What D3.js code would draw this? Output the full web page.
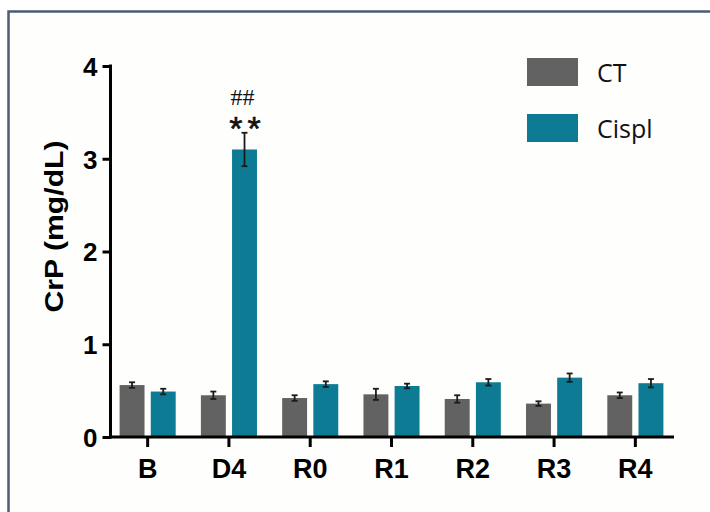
<!DOCTYPE html>
<html>
<head>
<meta charset="utf-8">
<script src="https://cdn.jsdelivr.net/npm/d3@7"></script>
<style>
  html, body { margin: 0; padding: 0; background: #ffffff; }
  svg { display: block; }
</style>
</head>
<body>
<svg id="chart" width="710" height="512"></svg>
<script>
// ---- data ----
const categories = ["B", "D4", "R0", "R1", "R2", "R3", "R4"];
const seriesNames = ["CT", "Cispl"];
const ctValues    = [0.56, 0.45, 0.42, 0.46, 0.41, 0.36, 0.45];
const ctErrors    = [0.03, 0.04, 0.03, 0.06, 0.04, 0.025, 0.03];
const cisValues   = [0.49, 3.10, 0.57, 0.55, 0.59, 0.64, 0.58];
const cisErrors   = [0.03, 0.18, 0.03, 0.025, 0.035, 0.045, 0.045];
const yTicks = [0, 1, 2, 3, 4];
const yLabel = "CrP (mg/dL)";
const annotations = [{cat: "D4", series: "Cispl", lines: ["##", "**"]}];

// ---- style ----
const colors = {CT: "#626262", Cispl: "#0d7b94"};
const W = 710, H = 512;
const plot = {left: 110.5, top: 66, bottom: 437, right: 674};
const sansBold = "'Liberation Sans', Arial, sans-serif";

const svg = d3.select("#chart");

// frame
svg.append("rect").attr("x", 0).attr("y", 0).attr("width", W).attr("height", H).attr("fill", "#ffffff");
svg.append("rect")
  .attr("x", 8.5).attr("y", 11.5).attr("width", 740).attr("height", 540)
  .attr("fill", "#fefefd").attr("stroke", "#4d5b76").attr("stroke-width", 2.5);

const y = d3.scaleLinear().domain([0, 4]).range([plot.bottom, plot.top]);
const x0 = d3.scaleBand().domain(categories).range([107, 676]).paddingInner(0.31).paddingOuter(0.155);
const x1 = d3.scaleBand().domain(seriesNames).range([0, x0.bandwidth()]).paddingInner(0.2);

const rows = [];
categories.forEach((c, i) => {
  rows.push({cat: c, series: "CT", v: ctValues[i], e: ctErrors[i]});
  rows.push({cat: c, series: "Cispl", v: cisValues[i], e: cisErrors[i]});
});

// bars
svg.append("g").selectAll("rect").data(rows).join("rect")
  .attr("x", d => x0(d.cat) + x1(d.series))
  .attr("y", d => y(d.v))
  .attr("width", x1.bandwidth())
  .attr("height", d => y(0) - y(d.v))
  .attr("fill", d => colors[d.series]);

// error bars
const eg = svg.append("g").attr("stroke", "#1b1b1b").attr("stroke-width", 1.8).attr("fill", "none");
rows.forEach(d => {
  const cx = x0(d.cat) + x1(d.series) + x1.bandwidth() / 2;
  eg.append("line").attr("x1", cx).attr("x2", cx).attr("y1", y(d.v + d.e)).attr("y2", y(d.v - d.e));
  eg.append("line").attr("x1", cx - 3).attr("x2", cx + 3).attr("y1", y(d.v + d.e)).attr("y2", y(d.v + d.e));
  eg.append("line").attr("x1", cx - 3).attr("x2", cx + 3).attr("y1", y(d.v - d.e)).attr("y2", y(d.v - d.e));
});

// annotations
annotations.forEach(a => {
  const i = categories.indexOf(a.cat);
  const v = a.series === "CT" ? ctValues[i] + ctErrors[i] : cisValues[i] + cisErrors[i];
  const cx = x0(a.cat) + x1(a.series) + x1.bandwidth() / 2;
  const top = y(v);
  svg.append("text").attr("x", cx + 3).attr("y", top + 7)
    .attr("text-anchor", "middle").attr("font-family", sansBold)
    .attr("font-size", 34).attr("fill", "#111").attr("letter-spacing", 5)
    .attr("stroke", "#111").attr("stroke-width", 0.6)
    .text(a.lines[1]);
  svg.append("text").attr("x", cx - 2).attr("y", top - 28)
    .attr("text-anchor", "middle").attr("font-family", "'Liberation Serif', 'DejaVu Serif', serif")
    .attr("font-size", 24).attr("fill", "#111")
    .text(a.lines[0]);
});

// y axis
const yAxis = svg.append("g").attr("transform", `translate(${plot.left},0)`)
  .call(d3.axisLeft(y).tickValues(yTicks).tickFormat(d3.format("d")).tickSize(8).tickPadding(5).tickSizeOuter(0));
yAxis.select(".domain").remove();
yAxis.selectAll(".tick line").attr("stroke", "#000").attr("stroke-width", 3);
yAxis.selectAll(".tick text").attr("font-family", sansBold)
  .attr("font-weight", "bold").attr("font-size", 26).attr("fill", "#000").attr("dy", "0.36em");
svg.append("line").attr("x1", plot.left).attr("x2", plot.left)
  .attr("y1", plot.top - 1.5).attr("y2", plot.bottom + 1.5).attr("stroke", "#000").attr("stroke-width", 3);

// x axis
const xAxis = svg.append("g").attr("transform", `translate(0,${plot.bottom})`)
  .call(d3.axisBottom(x0).tickSize(10).tickPadding(12).tickSizeOuter(0));
xAxis.select(".domain").remove();
xAxis.selectAll(".tick line").attr("stroke", "#000").attr("stroke-width", 3);
xAxis.selectAll(".tick text").attr("font-family", sansBold)
  .attr("font-weight", "bold").attr("font-size", 27).attr("fill", "#000");
svg.append("line").attr("x1", plot.left - 1.5).attr("x2", plot.right)
  .attr("y1", plot.bottom).attr("y2", plot.bottom).attr("stroke", "#000").attr("stroke-width", 3);

// y label
svg.append("text")
  .attr("transform", `translate(63, ${(plot.top + plot.bottom) / 2 - 25}) rotate(-90)`)
  .attr("text-anchor", "middle")
  .attr("font-family", sansBold)
  .attr("font-weight", "bold").attr("font-size", 26).attr("fill", "#000")
  .attr("textLength", 172).attr("lengthAdjust", "spacingAndGlyphs")
  .text(yLabel);

// legend
const lg = svg.append("g").attr("transform", "translate(527,58)");
seriesNames.forEach((s, i) => {
  lg.append("rect").attr("x", 0).attr("y", i * 56).attr("width", 51).attr("height", 28).attr("fill", colors[s]);
  lg.append("text").attr("x", 70).attr("y", i * 56 + 24)
    .attr("font-family", "'Open Sans', sans-serif").attr("font-size", 25).attr("fill", "#111")
    .text(s);
});
</script>
</body>
</html>
